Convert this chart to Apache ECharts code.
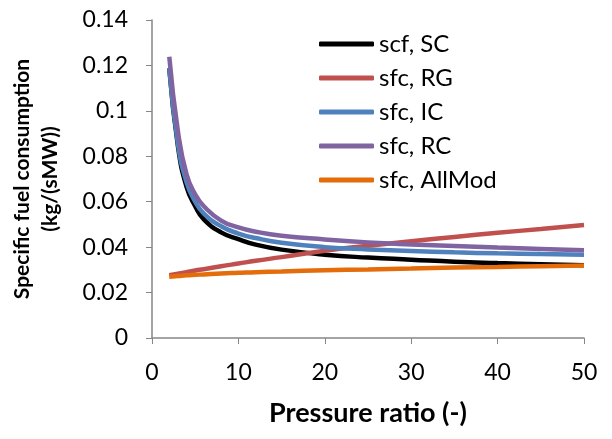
<!DOCTYPE html>
<html>
<head>
<meta charset="utf-8">
<script src="https://cdn.jsdelivr.net/npm/echarts@6/dist/echarts.min.js"></script>
<style>
  html, body { margin: 0; padding: 0; background: #fff; }
  #char { width: 612px; height: 439px; }
</style>
</head>
<body>
<div id="char"></div>
<script>
// pressure ratio (x) and specific fuel consumption per cycle
var pressureRatio = [2, 3, 4, 5, 6, 8, 10, 12, 15, 20, 25, 30, 35, 40, 45, 50];
var sfcSC     = [0.1187, 0.0845, 0.0665, 0.0580, 0.0522, 0.0465, 0.0435, 0.0411, 0.0389, 0.0367, 0.0354, 0.0345, 0.0336, 0.0330, 0.0325, 0.0320];
var sfcRG     = [0.0276, 0.0283, 0.0290, 0.0297, 0.0303, 0.0316, 0.0328, 0.0340, 0.0356, 0.0384, 0.0406, 0.0426, 0.0445, 0.0463, 0.0480, 0.0497];
var sfcIC     = [0.1187, 0.0855, 0.0685, 0.0600, 0.0548, 0.0492, 0.0460, 0.0440, 0.0419, 0.0400, 0.0390, 0.0383, 0.0377, 0.0373, 0.0370, 0.0367];
var sfcRC     = [0.1238, 0.0910, 0.0720, 0.0632, 0.0580, 0.0517, 0.0487, 0.0468, 0.0450, 0.0434, 0.0421, 0.0412, 0.0405, 0.0398, 0.0392, 0.0386];
var sfcAllMod = [0.0270, 0.0273, 0.0276, 0.0278, 0.0280, 0.0284, 0.0287, 0.0290, 0.0293, 0.0298, 0.0302, 0.0306, 0.0310, 0.0313, 0.0316, 0.0319];

var seriesNames = ['scf, SC', 'sfc, RG', 'sfc, IC', 'sfc, RC', 'sfc, AllMod'];
var seriesData = [sfcSC, sfcRG, sfcIC, sfcRC, sfcAllMod];
var colors = ['#000000', '#C0504D', '#4F81BD', '#8064A2', '#E46C0A'];

function pairs(ys) {
    var out = [];
    for (var i = 0; i < pressureRatio.length; i++) {
        out.push([pressureRatio[i], ys[i]]);
    }
    return out;
}

var font = 'Lato, "Open Sans", sans-serif';
var axisGrey = '#868686';

var series = [];
for (var i = 0; i < seriesNames.length; i++) {
    series.push({
        name: seriesNames[i],
        type: 'line',
        data: pairs(seriesData[i]),
        smooth: true,
        showSymbol: false,
        lineStyle: { width: 4.5, color: colors[i] },
        itemStyle: { color: colors[i] }
    });
}

var myChart = echarts.init(document.getElementById('char'), null, { renderer: 'canvas' });

var option = {
    color: colors,
    animation: false,
    grid: { left: 152, right: 28, top: 20, bottom: 101 },
    legend: {
        orient: 'vertical',
        left: 314,
        top: 27,
        itemWidth: 55,
        itemHeight: 5,
        itemGap: 10,
        icon: 'roundRect',
        data: seriesNames,
        textStyle: { fontFamily: font, fontSize: 24, color: '#000' }
    },
    xAxis: {
        type: 'value',
        min: 0,
        max: 50,
        interval: 10,
        name: 'Pressure ratio (-)',
        nameLocation: 'middle',
        nameGap: 62,
        nameTextStyle: { fontFamily: font, fontSize: 27, fontWeight: 'bold', color: '#000' },
        axisLine: { show: true, lineStyle: { color: axisGrey, width: 1.5 } },
        axisTick: { show: true, inside: false, length: 6, lineStyle: { color: axisGrey } },
        axisLabel: { margin: 23, fontFamily: font, fontSize: 23, color: '#000' },
        splitLine: { show: false }
    },
    yAxis: {
        type: 'value',
        min: 0,
        max: 0.14,
        interval: 0.02,
        name: 'Specific fuel consumption\n(kg/(sMW))',
        nameLocation: 'middle',
        nameGap: 88,
        nameTextStyle: { fontFamily: font, fontSize: 21, fontWeight: 'bold', color: '#000', lineHeight: 28 },
        axisLine: { show: true, lineStyle: { color: axisGrey, width: 1.5 } },
        axisTick: { show: true, inside: false, length: 6, lineStyle: { color: axisGrey } },
        axisLabel: { margin: 24, fontFamily: font, fontSize: 23, color: '#000' },
        splitLine: { show: false }
    },
    series: series
};

myChart.setOption(option);
</script>
</body>
</html>
